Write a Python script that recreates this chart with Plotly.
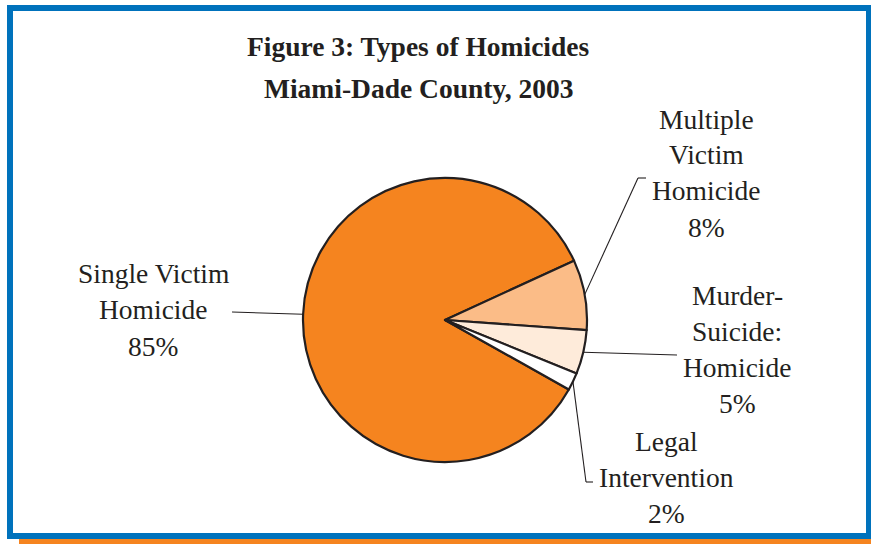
import math
import plotly.graph_objects as go

# Homicide types, Miami-Dade County, 2003 (percent of homicides)
categories = ["Single Victim Homicide", "Multiple Victim Homicide",
              "Murder-Suicide: Homicide", "Legal Intervention"]
percents = [85, 8, 5, 2]
label_lines = [
    ["Single Victim", "Homicide", "85%"],
    ["Multiple", "Victim", "Homicide", "8%"],
    ["Murder-", "Suicide:", "Homicide", "5%"],
    ["Legal", "Intervention", "2%"],
]
slice_colors = ["#F5841F", "#FBBC87", "#FEEBDA", "#FFFFFF"]

W, H = 871, 544
CX, CY, R = 445, 320, 142          # pie centre / radius in pixels
ROTATION = 119.3                    # clockwise from 12 o'clock
INK = "#231F20"
SERIF = "Liberation Serif"
FONT_SIZE = 27.5
TEXT_SHIFT = -1.5                   # nudge text baselines up a little


def px(x):
    return x / W


def py(y):
    return 1 - y / H


fig = go.Figure(go.Pie(
    labels=categories,
    values=percents,
    sort=False,
    direction="clockwise",
    rotation=ROTATION,
    marker=dict(colors=slice_colors, line=dict(color=INK, width=2.2)),
    textinfo="none",
    hoverinfo="label+percent",
    showlegend=False,
    domain=dict(x=[px(CX - R), px(CX + R)], y=[py(CY + R), py(CY - R)]),
))

# Label layout: centre x, line y positions, and leader-line path beyond the pie
label_pos = [
    dict(x=153, ys=[275, 311, 348], leader=[(232, 312)]),
    dict(x=706, ys=[121, 156, 192, 229], leader=[(638, 178), (646, 178)]),
    dict(x=737, ys=[297, 333, 369, 405], leader=[(677, 355)]),
    dict(x=666, ys=[443, 479, 515], leader=[(586, 482), (593, 482)]),
]

annotations = []
shapes = []

total = sum(percents)
cum = 0
for vals, lines, pos in zip(percents, label_lines, label_pos):
    mid = math.radians(ROTATION + 360 * (cum + vals / 2) / total)
    cum += vals
    sx = CX + R * math.sin(mid)
    sy = CY - R * math.cos(mid)
    pts = [(sx, sy)] + pos["leader"]
    for (x0, y0), (x1, y1) in zip(pts[:-1], pts[1:]):
        shapes.append(dict(type="line", xref="paper", yref="paper",
                           x0=px(x0), y0=py(y0), x1=px(x1), y1=py(y1),
                           line=dict(color=INK, width=1.1)))
    for text, y in zip(lines, pos["ys"]):
        annotations.append(dict(text=text, x=px(pos["x"]),
                                y=py(y + TEXT_SHIFT),
                                xref="paper", yref="paper",
                                xanchor="center", yanchor="middle",
                                showarrow=False,
                                font=dict(family=SERIF, size=FONT_SIZE,
                                          color=INK)))

# Title
for text, y in [("Figure 3: Types of Homicides", 48),
                ("Miami-Dade County, 2003", 90)]:
    annotations.append(dict(text=f"<b>{text}</b>", x=px(418),
                            y=py(y + TEXT_SHIFT),
                            xref="paper", yref="paper",
                            xanchor="center", yanchor="middle",
                            showarrow=False,
                            font=dict(family=SERIF, size=FONT_SIZE,
                                      color=INK)))

# Blue frame and orange rule underneath
shapes.append(dict(type="rect", xref="paper", yref="paper",
                   x0=px(19), x1=px(W + 2), y0=py(544), y1=py(539),
                   fillcolor="#F5841F", line=dict(width=0), layer="below"))
shapes.append(dict(type="rect", xref="paper", yref="paper",
                   x0=px(10), x1=px(869), y0=py(536), y1=py(8),
                   line=dict(color="#0072BC", width=6), layer="below"))

fig.update_layout(
    width=W, height=H,
    margin=dict(l=0, r=0, t=0, b=0),
    paper_bgcolor="white",
    plot_bgcolor="white",
    annotations=annotations,
    shapes=shapes,
)

fig.write_html("out.html")
